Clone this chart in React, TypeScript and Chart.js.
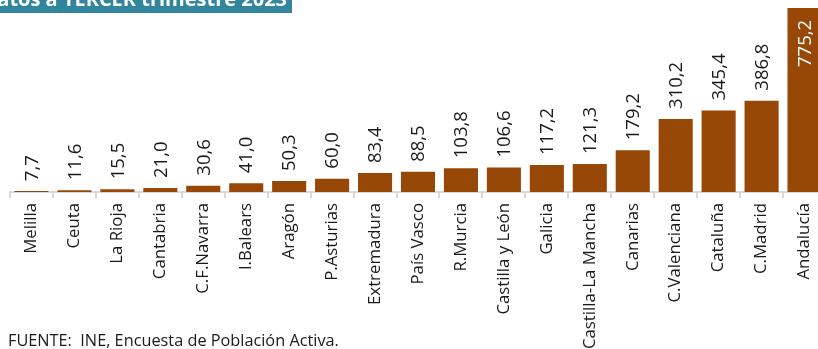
import React, { useEffect, useRef } from "react";
import { Chart, registerables } from "chart.js";

Chart.register(...registerables);

const categories = [
  "Melilla", "Ceuta", "La Rioja", "Cantabria", "C.F.Navarra", "I.Balears", "Aragón",
  "P.Asturias", "Extremadura", "País Vasco", "R.Murcia", "Castilla y León", "Galicia",
  "Castilla-La Mancha", "Canarias", "C.Valenciana", "Cataluña", "C.Madrid", "Andalucía",
];
const values = [
  7.7, 11.6, 15.5, 21.0, 30.6, 41.0, 50.3, 60.0, 83.4, 88.5, 103.8, 106.6, 117.2,
  121.3, 179.2, 310.2, 345.4, 386.8, 775.2,
];
const bannerText = "Datos a TERCER trimestre 2023";
const sourceText = "FUENTE:  INE, Encuesta de Población Activa.";

const BAR = "#974706";
const FONT = "'Open Sans'";

const fmt = (v: number) => v.toFixed(1).replace(".", ",");

const labelsPlugin = {
  id: "valueLabels",
  afterDatasetsDraw(chart: any) {
    const ctx = chart.ctx;
    const meta = chart.getDatasetMeta(0);
    const maxIdx = values.indexOf(Math.max(...values));
    ctx.save();
    ctx.font = `18.5px ${FONT}`;
    ctx.textBaseline = "middle";
    meta.data.forEach((bar: any, i: number) => {
      const txt = fmt(values[i]);
      ctx.save();
      if (i === maxIdx) {
        ctx.translate(bar.x + 1, bar.y + 13);
        ctx.rotate(-Math.PI / 2);
        ctx.textAlign = "right";
        ctx.fillStyle = "#ffffff";
      } else {
        ctx.translate(bar.x + 1, bar.y - 9);
        ctx.rotate(-Math.PI / 2);
        ctx.textAlign = "left";
        ctx.fillStyle = "#1a1a1a";
      }
      ctx.fillText(txt, 0, 0);
      ctx.restore();
    });
    ctx.restore();
  },
  afterDraw(chart: any) {
    const ctx = chart.ctx;
    ctx.save();
    ctx.fillStyle = "#31859c";
    ctx.fillRect(0, 0, 292, 13);
    ctx.fillStyle = "#ffffff";
    ctx.font = `bold 20px ${FONT}`;
    ctx.textAlign = "right";
    ctx.textBaseline = "alphabetic";
    ctx.fillText(bannerText, 287, 6);
    ctx.fillStyle = "#1a1a1a";
    ctx.font = `16.3px ${FONT}`;
    ctx.textAlign = "left";
    ctx.fillText(sourceText, 8, 346);
    ctx.restore();
  },
};

export default function App() {
  const ref = useRef<HTMLCanvasElement>(null);
  useEffect(() => {
    document.body.style.margin = "0";
    const chart = new Chart(ref.current!, {
      type: "bar",
      data: {
        labels: categories,
        datasets: [
          {
            data: values,
            backgroundColor: BAR,
            borderColor: "rgba(255,255,255,0.35)",
            borderWidth: 1,
            barPercentage: 0.84,
            categoryPercentage: 1,
          },
        ],
      },
      options: {
        animation: false,
        responsive: false,
        devicePixelRatio: 1,
        layout: { padding: { left: 10, right: 14, top: 1, bottom: 0 } },
        plugins: { legend: { display: false }, tooltip: { enabled: false } },
        scales: {
          x: {
            afterFit: (s: any) => {
              s.height = 157;
            },
            grid: {
              display: true,
              drawOnChartArea: false,
              drawTicks: true,
              tickLength: 6,
              color: "#d9d9d9",
              lineWidth: 2,
              offset: true,
            },
            border: { display: true, color: "#d9d9d9", width: 2 },
            ticks: {
              autoSkip: false,
              minRotation: 90,
              maxRotation: 90,
              padding: 5,
              color: "#1a1a1a",
              font: { family: FONT, size: 16.8 },
            },
          },
          y: {
            display: false,
            min: 0,
            max: 800,
          },
        },
      },
      plugins: [labelsPlugin],
    });
    return () => chart.destroy();
  }, []);
  return (
    <div style={{ position: "relative", width: 818, height: 349, overflow: "hidden" }}>
      <canvas ref={ref} width={840} height={349} style={{ position: "absolute", left: 0, top: 0 }} />
    </div>
  );
}
